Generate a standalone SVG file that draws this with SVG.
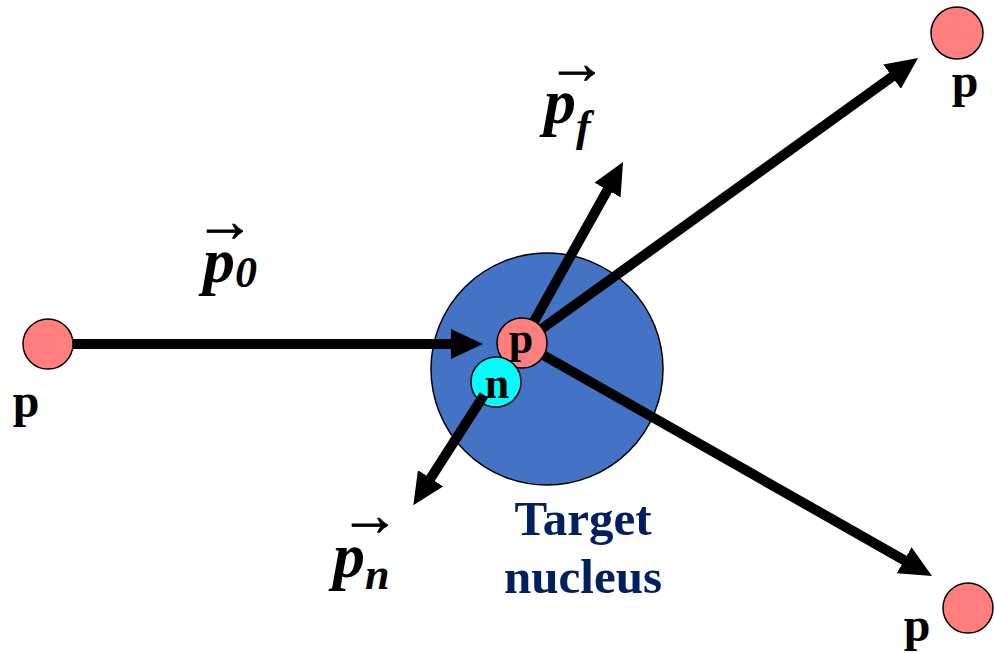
<svg xmlns="http://www.w3.org/2000/svg" width="994" height="653" viewBox="0 0 994 653">
<defs>
<marker id="ah" markerUnits="userSpaceOnUse" viewBox="0 0 32 30" markerWidth="32" markerHeight="30" refX="12" refY="15" orient="auto">
<path d="M0,0 L32,15 L0,30 z" fill="#000"/>
</marker>
</defs>
<style>
.lbl{font-family:"Liberation Serif","Times New Roman",serif;font-weight:bold;fill:#000}
.vec{font-family:"Liberation Serif","Times New Roman",serif;font-style:italic;font-weight:bold;fill:#000;font-size:64px}
.over{font-family:"Liberation Serif","DejaVu Serif",serif;font-style:normal;font-weight:normal;font-size:60px;stroke:#000;stroke-width:0.8}
.sub{font-size:44px}
.conn{stroke:#000;stroke-width:10;fill:none;marker-end:url(#ah)}
.prot{fill:#FF7F7F;stroke:#000;stroke-width:1.5}
.neut{fill:#00FFFF;stroke:#000;stroke-width:1.5}
.tgt{font-family:"Liberation Serif","Times New Roman",serif;font-weight:bold;font-size:49px;fill:#002060;text-anchor:middle}
</style>
<g id="nucleus">
<circle cx="547" cy="369" r="116" fill="#4472C4" stroke="#000" stroke-width="1.5"/>
</g>
<g id="connectors">
<line class="conn" x1="48" y1="344" x2="463" y2="344"/>
<line class="conn" x1="522" y1="343" x2="613.3" y2="179.5"/>
<line class="conn" x1="522" y1="343" x2="901.8" y2="69.7"/>
<line class="conn" x1="522" y1="343" x2="914.6" y2="566.1"/>
</g>
<g id="proton-in">
<circle class="prot" cx="48" cy="344" r="25"/>
<text class="lbl" x="26" y="417" font-size="48" text-anchor="middle">p</text>
</g>
<g id="proton-target">
<circle class="prot" cx="522" cy="343" r="25"/>
<text class="lbl" x="521" y="353" font-size="44" text-anchor="middle">p</text>
</g>
<g id="neutron">
<circle class="neut" cx="496" cy="382" r="25"/>
<text class="lbl" x="497" y="398" font-size="44" text-anchor="middle">n</text>
</g>
<g id="connector-pn">
<line class="conn" x1="484" y1="395" x2="424.1" y2="488.4"/>
</g>
<g id="proton-out-1">
<circle class="prot" cx="957" cy="33" r="26"/>
<text class="lbl" x="965" y="97" font-size="48" text-anchor="middle">p</text>
</g>
<g id="proton-out-2">
<circle class="prot" cx="968" cy="608" r="25"/>
<text class="lbl" x="917" y="641" font-size="48" text-anchor="middle">p</text>
</g>
<g id="label-p0">
<text class="vec"><tspan class="over" x="225" y="241" text-anchor="middle">→</tspan><tspan x="203" y="282" text-anchor="start">p</tspan><tspan class="sub" dy="5">0</tspan></text>
</g>
<g id="label-pf">
<text class="vec"><tspan class="over" x="577" y="83" text-anchor="middle">→</tspan><tspan x="544" y="123" text-anchor="start">p</tspan><tspan class="sub" dy="18">f</tspan></text>
</g>
<g id="label-pn">
<text class="vec"><tspan class="over" x="370" y="535" text-anchor="middle">→</tspan><tspan x="333" y="577" text-anchor="start">p</tspan><tspan class="sub" dy="12">n</tspan></text>
</g>
<g id="label-target">
<text class="tgt" x="583" y="535">Target</text>
<text class="tgt" x="583" y="593">nucleus</text>
</g>
</svg>
